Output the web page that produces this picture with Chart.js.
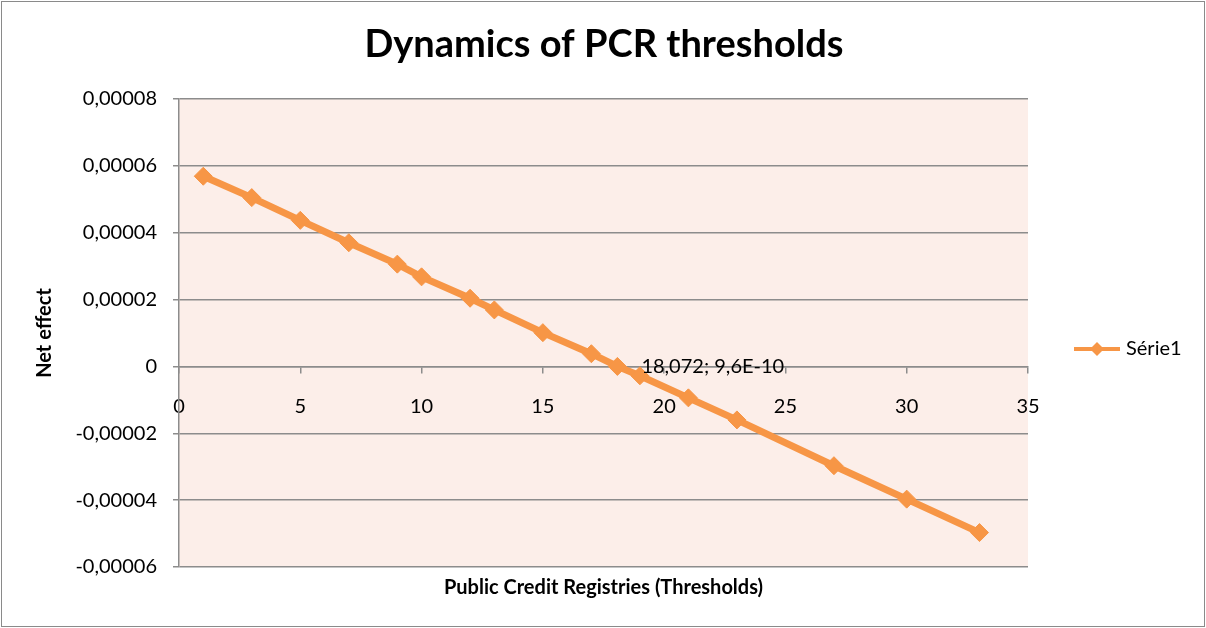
<!DOCTYPE html>
<html>
<head>
<meta charset="utf-8">
<script src="https://cdn.jsdelivr.net/npm/chart.js@4.4.1/dist/chart.umd.min.js"></script>
<style>
  html, body { margin: 0; padding: 0; background: #fff; }
  #wrap { width: 1206px; height: 628px; position: relative; }
</style>
</head>
<body>
<div id="wrap"><canvas id="myChart"></canvas></div>
<script>
// thresholds (x) and net effect (y)
const thresholds = [1, 3, 5, 7, 9, 10, 12, 13, 15, 17, 18.072, 19, 21, 23, 27, 30, 33]
const netEffect = [5.69e-5, 5.05e-5, 4.37e-5, 3.70e-5, 3.06e-5, 2.68e-5, 2.04e-5, 1.69e-5, 1.01e-5, 0.38e-5,
  9.6e-10, -0.28e-5, -0.94e-5, -1.60e-5, -2.97e-5, -3.97e-5, -4.97e-5]
const labelIndex = 10
const labelText = '18,072; 9,6E-10'
const seriesName = 'Série1'
const chartTitle = 'Dynamics of PCR thresholds'
const xTitle = 'Public Credit Registries (Thresholds)'
const yTitle = 'Net effect'

const FONT = 'Lato, "Open Sans", sans-serif'
const ORANGE = '#F79646'
const GRID = '#8c8c8c'

// background, border, titles, legend, data label
const decor = {
  id: 'decor',
  beforeDraw(chart) {
    const { ctx, chartArea: a } = chart
    ctx.save()
    ctx.fillStyle = '#fff'
    ctx.fillRect(0, 0, chart.width, chart.height)
    ctx.fillStyle = '#FCEEE9'
    ctx.fillRect(a.left, a.top, a.right - a.left, a.bottom - a.top)
    ctx.strokeStyle = '#8a8a8a'
    ctx.lineWidth = 1
    ctx.strokeRect(1.5, 1.5, chart.width - 3, chart.height - 3)
    ctx.restore()
  },
  afterDraw(chart) {
    const { ctx, chartArea: a } = chart
    ctx.save()
    ctx.fillStyle = '#000'
    ctx.textAlign = 'center'
    ctx.textBaseline = 'middle'
    ctx.font = 'bold 38px ' + FONT
    ctx.fillText(chartTitle, 604, 45)
    ctx.font = 'bold 20px ' + FONT
    ctx.fillText(xTitle, (a.left + a.right) / 2, 588)
    ctx.save()
    ctx.translate(45, (a.top + a.bottom) / 2)
    ctx.rotate(-Math.PI / 2)
    ctx.fillText(yTitle, 0, 0)
    ctx.restore()

    // legend
    const ly = 349
    ctx.strokeStyle = ORANGE
    ctx.lineWidth = 4
    ctx.beginPath()
    ctx.moveTo(1074, ly)
    ctx.lineTo(1120, ly)
    ctx.stroke()
    ctx.fillStyle = ORANGE
    ctx.beginPath()
    ctx.moveTo(1097 - 7, ly)
    ctx.lineTo(1097, ly - 7)
    ctx.lineTo(1097 + 7, ly)
    ctx.lineTo(1097, ly + 7)
    ctx.closePath()
    ctx.fill()
    ctx.fillStyle = '#000'
    ctx.textAlign = 'left'
    ctx.font = '20px ' + FONT
    ctx.fillText(seriesName, 1126, ly)

    // data label
    const pt = chart.getDatasetMeta(0).data[labelIndex]
    ctx.fillText(labelText, pt.x + 24, pt.y)
    ctx.restore()
  }
}

const ctx = document.getElementById('myChart').getContext('2d')
const chart = new Chart(ctx, {
  type: 'line',
  data: {
    datasets: [{
      label: seriesName,
      data: thresholds.map((x, i) => ({ x: x, y: netEffect[i] })),
      borderColor: ORANGE,
      backgroundColor: ORANGE,
      borderWidth: 7,
      pointStyle: 'rectRot',
      pointRadius: 9,
      pointBorderWidth: 1,
      pointBackgroundColor: ORANGE,
      tension: 0
    }]
  },
  options: {
    responsive: true,
    maintainAspectRatio: false,
    animation: false,
    layout: { padding: { top: 99, right: 178, bottom: 61, left: 0 } },
    plugins: { legend: { display: false }, tooltip: { enabled: false } },
    scales: {
      x: {
        type: 'linear',
        position: { y: 0 },
        min: 0, max: 35,
        ticks: { stepSize: 5, color: '#000', font: { family: FONT, size: 20 }, padding: 22 },
        grid: { drawOnChartArea: false, drawTicks: true, tickLength: 6, color: GRID, lineWidth: 1.5 },
        border: { display: true, color: GRID, width: 1.5 }
      },
      y: {
        min: -0.00006, max: 0.00008,
        afterFit: s => { s.width = 179 },
        ticks: {
          stepSize: 0.00002,
          color: '#000',
          font: { family: FONT, size: 20 },
          padding: 16,
          callback: v => Math.abs(v) < 1e-12 ? '0' : v.toFixed(5).replace('.', ',')
        },
        grid: { color: GRID, lineWidth: 1.5, tickLength: 6 },
        border: { display: true, color: GRID, width: 1.5 }
      }
    }
  },
  plugins: [decor]
})
</script>
</body>
</html>
